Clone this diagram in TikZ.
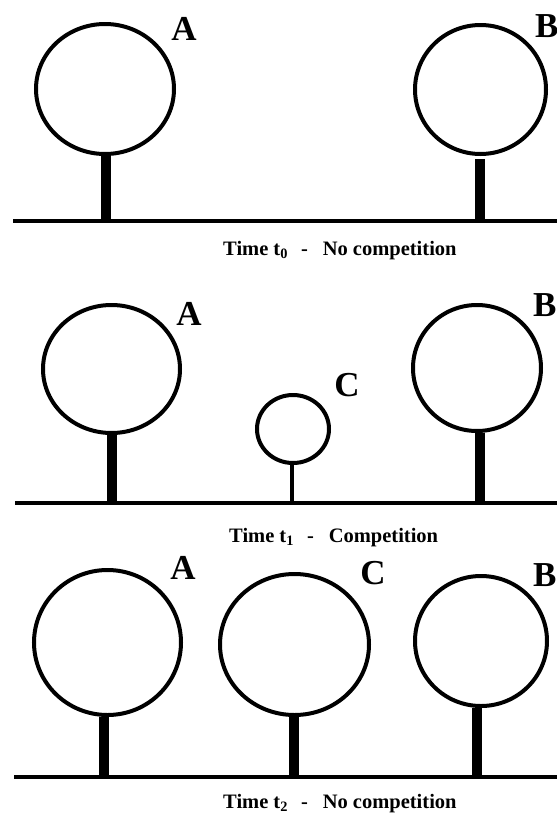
\documentclass[tikz,border=0pt]{standalone}
\usepackage{fontspec}
\setmainfont{Liberation Serif}
\usetikzlibrary{shapes.geometric}

\tikzset{
  crown/.style={draw=black, line width=4pt, ellipse, inner sep=0pt, fill=white},
  trunk/.style={draw=black, line width=10pt, line cap=butt},
  twig/.style={draw=black, line width=4pt, line cap=butt},
  ground/.style={draw=black, line width=4pt},
  treelabel/.style={inner sep=0pt, font=\fontsize{35}{35}\selectfont\bfseries},
  caption/.style={inner sep=0pt, anchor=base west, font=\fontsize{20.5}{20.5}\selectfont\bfseries}
}

\begin{document}
\begin{tikzpicture}[x=1pt, y=-1pt]
  \useasboundingbox (0,0) rectangle (557,817);
  \fill[white] (0,0) rectangle (557,817);

  % ---------- time t0 ----------
  \coordinate (g1w) at (13,221);
  \coordinate (g1e) at (560,221);
  \draw[ground] (g1w) -- (g1e);

  \node[crown, minimum width=138pt, minimum height=130pt] (a1) at (105,89) {};
  \coordinate (a1g) at (105.5,221);
  \draw[trunk] (a1.south -| a1g) -- (a1g);
  \node[treelabel] (la1) at (184,29) {A};

  \node[crown, minimum width=131pt, minimum height=129pt] (b1) at (480.5,89.5) {};
  \coordinate (b1t) at (480,159);
  \coordinate (b1g) at (480,221);
  \draw[trunk] (b1t) -- (b1g);
  \node[treelabel, anchor=west] (lb1) at (535,26) {B};

  \node[caption] (cap1) at (223,255) {Time t\textsubscript{0}\hspace{13pt}-\hspace{15pt}No competition};

  % ---------- time t1 ----------
  \coordinate (g2w) at (15,502.5);
  \coordinate (g2e) at (560,502.5);
  \draw[ground] (g2w) -- (g2e);

  \node[crown, minimum width=137pt, minimum height=128pt] (a2) at (111.5,369) {};
  \coordinate (a2g) at (111.5,502.5);
  \draw[trunk] (a2.south -| a2g) -- (a2g);
  \node[treelabel] (la2) at (189,314) {A};

  \node[crown, minimum width=72pt, minimum height=68pt] (c2) at (293,429) {};
  \coordinate (c2g) at (292,502.5);
  \draw[twig] (c2.south -| c2g) -- (c2g);
  \node[treelabel] (lc2) at (347,385) {C};

  \node[crown, minimum width=128pt, minimum height=126pt] (b2) at (477,368) {};
  \coordinate (b2g) at (479.5,502.5);
  \draw[trunk] (b2.south -| b2g) -- (b2g);
  \node[treelabel, anchor=west] (lb2) at (533,305) {B};

  \node[caption] (cap2) at (229,542) {Time t\textsubscript{1}\hspace{13pt}-\hspace{15pt}Competition};

  % ---------- time t2 ----------
  \coordinate (g3w) at (14,777);
  \coordinate (g3e) at (560,777);
  \draw[ground] (g3w) -- (g3e);

  \node[crown, minimum width=147pt, minimum height=145pt] (a3) at (107.5,642.5) {};
  \coordinate (a3g) at (104,777);
  \draw[trunk] (a3.south -| a3g) -- (a3g);
  \node[treelabel] (la3) at (183,568) {A};

  \node[crown, minimum width=149pt, minimum height=141pt] (c3) at (294.5,644.5) {};
  \coordinate (c3g) at (293.5,777);
  \draw[trunk] (c3.south -| c3g) -- (c3g);
  \node[treelabel] (lc3) at (373,573) {C};

  \node[crown, minimum width=132pt, minimum height=130pt] (b3) at (481,641) {};
  \coordinate (b3g) at (477,777);
  \draw[trunk] (b3.south -| b3g) -- (b3g);
  \node[treelabel, anchor=west] (lb3) at (533,575) {B};

  \node[caption] (cap3) at (223,808) {Time t\textsubscript{2}\hspace{13pt}-\hspace{15pt}No competition};
\end{tikzpicture}
\end{document}
